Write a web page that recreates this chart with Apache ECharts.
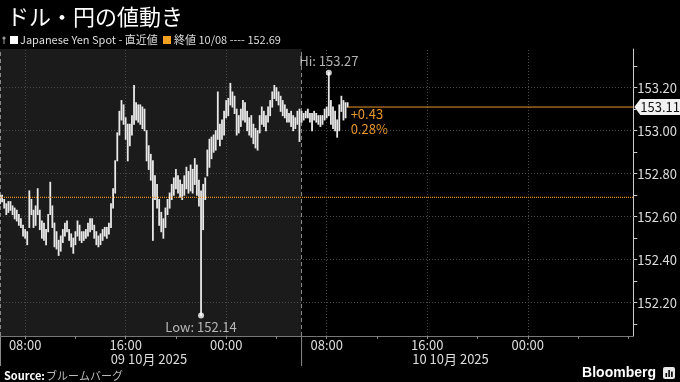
<!DOCTYPE html>
<html><head><meta charset="utf-8">
<script src="https://cdn.jsdelivr.net/npm/echarts@6/dist/echarts.min.js"></script>
<style>html,body{margin:0;padding:0;background:#000;}#c{width:680px;height:382px;}</style>
</head><body><div id="c"></div>
<script>
// 10-minute bars starting 06:00 on 9 Oct (hours counted from 00:00 9 Oct)
const barStartHour = 6;
const barStepHours = 1 / 6;
const highs = [
152.70,152.70,152.68,152.66,152.67,152.67,152.65,152.64,152.63,152.61,
152.59,152.56,152.54,152.53,152.72,152.68,152.63,152.65,152.73,152.63,
152.58,152.57,152.54,152.61,152.76,152.65,152.57,152.53,152.49,152.51,
152.54,152.57,152.58,152.54,152.52,152.50,152.53,152.58,152.56,152.53,
152.53,152.54,152.57,152.59,152.59,152.56,152.53,152.51,152.52,152.54,
152.55,152.55,152.57,152.66,152.73,152.86,152.99,153.09,153.14,153.12,
153.06,153.03,153.03,153.07,153.21,153.13,153.12,153.12,153.11,153.10,
153.00,152.93,152.89,152.86,152.79,152.75,152.68,152.62,152.59,152.64,
152.68,152.71,152.75,152.78,152.82,152.79,152.77,152.75,152.79,152.83,
152.81,152.84,152.82,152.87,152.84,152.77,152.72,152.75,152.78,152.91,
152.96,152.97,152.98,153.00,153.18,153.03,153.05,153.09,153.14,153.15,
153.22,153.18,153.16,153.10,153.07,153.10,153.14,153.13,153.09,153.06,
153.07,153.03,153.01,153.00,153.07,153.11,153.09,153.07,153.11,153.14,
153.18,153.21,153.20,153.18,153.16,153.14,153.12,153.10,153.08,153.09,
153.07,153.06,153.09,153.10,153.09,153.08,153.09,153.10,153.08,153.08,
153.09,153.08,153.07,153.07,153.07,153.10,153.11,153.27,153.14,153.11,
153.09,153.05,153.12,153.16,153.14,153.13,153.13
];
const lows = [
152.66,152.67,152.64,152.61,152.62,152.63,152.61,152.59,152.58,152.56,
152.55,152.51,152.50,152.47,152.55,152.61,152.55,152.56,152.61,152.54,
152.50,152.49,152.47,152.53,152.61,152.55,152.46,152.45,152.42,152.44,
152.48,152.51,152.53,152.49,152.46,152.43,152.47,152.51,152.49,152.48,
152.49,152.50,152.51,152.53,152.54,152.50,152.47,152.46,152.47,152.49,
152.51,152.50,152.52,152.55,152.64,152.71,152.86,152.98,153.05,153.03,
152.96,152.86,152.93,152.98,153.03,153.05,153.04,153.03,153.01,153.00,
152.86,152.82,152.77,152.49,152.68,152.64,152.56,152.53,152.50,152.55,
152.61,152.64,152.68,152.70,152.73,152.71,152.69,152.68,152.70,152.73,
152.71,152.72,152.71,152.75,152.70,152.65,152.14,152.54,152.68,152.79,
152.83,152.87,152.90,152.91,152.96,152.93,152.96,152.98,153.06,153.07,
153.12,153.11,153.08,152.98,152.99,153.02,153.05,153.04,153.00,152.98,
152.97,152.94,152.92,152.91,152.99,153.03,153.02,153.00,153.04,153.07,
153.11,153.15,153.14,153.12,153.09,153.07,153.06,153.04,153.04,153.02,
153.00,153.01,153.03,152.95,153.04,153.05,153.06,153.06,153.04,153.00,
153.05,153.04,153.03,153.02,153.03,153.05,153.06,153.07,153.03,153.01,
153.00,152.97,153.00,153.09,153.05,153.06,153.11
];
const prevClose = 152.69;
const lastPrice = 153.11;
const changeText = ['+0.43', '0.28%'];
const yLabelValues = [152.2, 152.4, 152.6, 152.8, 153.0, 153.2];
const yTickValues = [152.1, 152.2, 152.3, 152.4, 152.5, 152.6, 152.7, 152.8, 152.9, 153.0, 153.1, 153.2, 153.3];
const xLabelHours = [8, 16, 24, 32, 40, 48];
const xLabelTexts = ['08:00', '16:00', '00:00', '08:00', '16:00', '00:00'];
const xTickHours = [8, 12, 16, 20, 24, 28, 32, 36, 40, 44, 48, 52, 56];
const dateLabelHours = [16, 40];
const dateLabelTexts = ['09 10月 2025', '10 10月 2025'];
const sessionStartHours = [6, 30];
const xMin = 6, xMax = 56.4, yMin = 152.045, yMax = 153.38;

const ORANGE = '#e8962c';
const FONT = '"Noto Sans CJK JP","Noto Sans",sans-serif';
const times = highs.map((_, i) => barStartHour + i * barStepHours);
const bars = times.map((t, i) => [t, lows[i], highs[i]]);
let hiIdx = 0, loIdx = 0;
highs.forEach((v, i) => { if (v > highs[hiIdx]) hiIdx = i; });
lows.forEach((v, i) => { if (v < lows[loIdx]) loIdx = i; });
const lastT = times[times.length - 1];

const chart = echarts.init(document.getElementById('c'));
chart.setOption({
  backgroundColor: '#000',
  animation: false,
  textStyle: { fontFamily: FONT },
  title: {
    text: 'ドル・円の値動き', left: 2, top: 1,
    textStyle: { color: '#fff', fontSize: 22, fontWeight: 'normal', fontFamily: FONT }
  },
  grid: { left: 0, right: 45, top: 49, bottom: 46 },
  xAxis: {
    type: 'value', min: xMin, max: xMax,
    axisLine: { show: true, lineStyle: { color: '#777' } },
    axisTick: { show: true, customValues: xTickHours, length: 3, lineStyle: { color: '#888' } },
    splitLine: { show: false },
    axisLabel: {
      customValues: xLabelHours, color: '#ddd', fontSize: 13, margin: 3, fontFamily: FONT,
      formatter: v => xLabelTexts[xLabelHours.indexOf(v)]
    }
  },
  yAxis: {
    type: 'value', position: 'right', min: yMin, max: yMax,
    axisLine: { show: true, lineStyle: { color: '#ccc' } },
    axisTick: { show: true, customValues: yTickValues, length: 4, lineStyle: { color: '#ccc' } },
    splitLine: { show: false },
    axisLabel: {
      customValues: yLabelValues, color: '#ddd', fontSize: 13, margin: 4, fontFamily: FONT,
      formatter: v => v.toFixed(2)
    }
  },
  series: [
    {
      type: 'line', data: [], z: 0, silent: true,
      markArea: {
        silent: true, z: 0,
        itemStyle: { color: '#1b1b1b' },
        data: [[{ xAxis: sessionStartHours[0] }, { xAxis: sessionStartHours[1] }]]
      },
      markLine: {
        silent: true, z: 1, symbol: 'none', label: { show: false },
        lineStyle: { color: '#4a4a4a', type: [1, 2], width: 1 },
        data: yLabelValues.map(v => ({ yAxis: v })).concat(xLabelHours.map(h => ({ xAxis: h })))
      }
    },
    {
      type: 'line', data: [], z: 0, silent: true,
      markLine: {
        silent: true, z: 1, symbol: 'none', label: { show: false },
        lineStyle: { color: '#888', type: [4, 3], width: 1 },
        data: sessionStartHours.map(h => ({ xAxis: h }))
      }
    },
    {
      type: 'custom', z: 2, data: bars, encode: { x: 0, y: [1, 2] },
      renderItem: (params, api) => {
        const x = api.value(0);
        const p1 = api.coord([x, api.value(2)]);
        const p2 = api.coord([x, api.value(1)]);
        return {
          type: 'line',
          shape: { x1: p1[0], y1: p1[1] - 0.5, x2: p2[0], y2: p2[1] + 0.5 },
          style: { stroke: '#e8e8e8', lineWidth: 1.8 }
        };
      }
    },
    {
      name: 'prevClose', type: 'line', z: 5, silent: true, symbol: 'none',
      data: [[xMin, prevClose], [xMax, prevClose]],
      lineStyle: { color: ORANGE, type: [1, 1], width: 1.2 },
      itemStyle: { color: ORANGE }
    },
    {
      name: 'last', type: 'line', z: 5, silent: true, symbol: 'none',
      data: [[lastT, lastPrice], [xMax, lastPrice]],
      lineStyle: { color: ORANGE, type: 'solid', width: 1 },
      itemStyle: { color: ORANGE }
    },
    {
      type: 'scatter', z: 6, symbolSize: 6, itemStyle: { color: '#fff' },
      data: [
        { value: [times[hiIdx], highs[hiIdx]], label: { show: true, position: 'top', distance: 2, formatter: 'Hi: ' + highs[hiIdx].toFixed(2) } },
        { value: [times[loIdx], lows[loIdx]], label: { show: true, position: 'bottom', distance: 2, formatter: 'Low: ' + lows[loIdx].toFixed(2) } }
      ],
      label: { color: '#ddd', fontSize: 13, fontFamily: FONT }
    }
  ]
});

const px = (x, y) => chart.convertToPixel({ gridIndex: 0 }, [x, y]);
const last = px(lastT, lastPrice);
const rightX = px(xMax, lastPrice)[0];
const axisBottom = px(xMin, yMin)[1];
const graphics = [];
// legend row
graphics.push({ type: 'circle', shape: { cx: 4, cy: 38, r: 1.6 }, style: { fill: '#999' } });
graphics.push({ type: 'line', shape: { x1: 4, y1: 39, x2: 4, y2: 44 }, style: { stroke: '#999', lineWidth: 1 } });
graphics.push({ type: 'rect', shape: { x: 10, y: 36, width: 8, height: 8 }, style: { fill: '#fff' } });
graphics.push({ type: 'text', x: 20, y: 40, style: { text: 'Japanese Yen Spot - 直近値', fill: '#ddd', font: '11px ' + FONT, verticalAlign: 'middle' } });
graphics.push({ type: 'rect', shape: { x: 163, y: 36, width: 8, height: 8 }, style: { fill: '#f5a020' } });
graphics.push({ type: 'text', x: 174, y: 40, style: { text: '終値 10/08 ---- ' + prevClose.toFixed(2), fill: '#ddd', font: '11px ' + FONT, verticalAlign: 'middle' } });
// date labels under the 16:00 ticks
dateLabelHours.forEach((h, i) => {
  const p = px(h, yMin);
  graphics.push({ type: 'text', x: p[0] - 15, y: 359, style: { text: dateLabelTexts[i], fill: '#ddd', font: '13px ' + FONT, verticalAlign: 'middle', align: 'left' } });
});
// session separators extended below the axis
sessionStartHours.forEach(h => {
  const p = px(h, yMin);
  const xx = Math.max(p[0], 0.5);
  graphics.push({ type: 'line', shape: { x1: xx, y1: axisBottom, x2: xx, y2: 366 }, style: { stroke: '#888', lineWidth: 1 } });
});
// last price tag on the axis
graphics.push({ type: 'polygon', shape: { points: [[rightX + 1, last[1]], [rightX + 7, last[1] - 8], [680, last[1] - 8], [680, last[1] + 8], [rightX + 7, last[1] + 8]] }, style: { fill: '#f2f2f2' } });
graphics.push({ type: 'text', x: rightX + 7, y: last[1], style: { text: lastPrice.toFixed(2), fill: '#111', font: '13px ' + FONT, verticalAlign: 'middle' } });
// change labels
graphics.push({ type: 'text', x: last[0] + 3, y: last[1] + 7, style: { text: changeText[0], fill: ORANGE, font: '13px ' + FONT, verticalAlign: 'middle' } });
graphics.push({ type: 'text', x: last[0] + 3, y: last[1] + 22, style: { text: changeText[1], fill: ORANGE, font: '13px ' + FONT, verticalAlign: 'middle' } });
// footer
graphics.push({ type: 'text', x: 4, y: 376, style: { text: 'Source:', fill: '#fff', font: 'bold 11px ' + FONT, verticalAlign: 'middle' } });
graphics.push({ type: 'text', x: 46, y: 376, style: { text: 'ブルームバーグ', fill: '#bbb', font: '11px ' + FONT, verticalAlign: 'middle' } });
graphics.push({ type: 'text', x: 656, y: 373, style: { text: 'Bloomberg', fill: '#fff', font: 'bold 14px "Liberation Sans",Arial,sans-serif', verticalAlign: 'middle', align: 'right' } });
graphics.push({ type: 'rect', shape: { x: 663, y: 367, width: 12, height: 12, r: 2 }, style: { fill: '#e8e8e8' } });
graphics.push({ type: 'rect', shape: { x: 665.5, y: 373, width: 1.6, height: 4 }, style: { fill: '#000' } });
graphics.push({ type: 'rect', shape: { x: 668.3, y: 370, width: 1.6, height: 7 }, style: { fill: '#000' } });
graphics.push({ type: 'rect', shape: { x: 671.1, y: 371.5, width: 1.6, height: 5.5 }, style: { fill: '#000' } });
chart.setOption({ graphic: graphics });
</script>
</body></html>
